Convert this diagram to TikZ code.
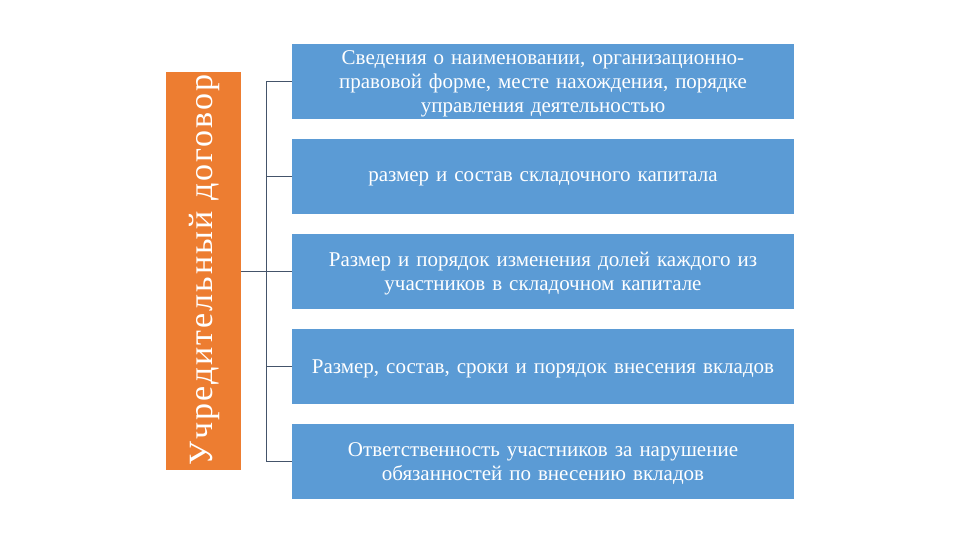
\documentclass[tikz,border=0pt]{standalone}
\usepackage{fontspec}
\setmainfont{Liberation Serif}
\newfontfamily\barfont[LetterSpace=6]{Liberation Serif}
\definecolor{barorange}{HTML}{ED7D31}
\definecolor{boxblue}{HTML}{5B9BD5}
\definecolor{linegray}{HTML}{44546A}
\begin{document}
\begin{tikzpicture}[x=1bp,y=-1bp,
  itembox/.style={fill=boxblue, draw=none, minimum width=502bp, minimum height=75bp, inner sep=0pt},
  itemtext/.style={text width=495bp, align=center, text=white, inner sep=0pt,
    font=\fontsize{21bp}{24bp}\selectfont, yshift=-2.5bp},
  conn/.style={draw=linegray, line width=0.8bp}]
\useasboundingbox (0,0) rectangle (960,540);
\node[fill=barorange, minimum width=75bp, minimum height=398bp, inner sep=0pt] (bar) at (203.5,271) {};
\node[rotate=90, anchor=base, text=white, font=\barfont\fontsize{34bp}{36bp}\selectfont, inner sep=0pt] (bartext) at (212,270) {Учредительный договор};
\node[itembox] (b1) at (543,81.5) {};
\node[itembox] (b2) at (543,176.5) {};
\node[itembox] (b3) at (543,271.5) {};
\node[itembox] (b4) at (543,366.5) {};
\node[itembox] (b5) at (543,461.5) {};
\node[itemtext] (t1) at (b1) {Сведения о наименовании, организационно-\\правовой форме, месте нахождения, порядке\\управления деятельностью};
\node[itemtext] (t2) at (b2) {размер и состав складочного капитала};
\node[itemtext] (t3) at (b3) {Размер и порядок изменения долей каждого из\\участников в складочном капитале};
\node[itemtext] (t4) at (b4) {Размер, состав, сроки и порядок внесения вкладов};
\node[itemtext] (t5) at (b5) {Ответственность участников за нарушение\\обязанностей по внесению вкладов};
\coordinate (top) at (266,81.5);
\coordinate (bot) at (266,461.5);
\draw[conn] (b1.west) -- (top) -- (bot) -- (b5.west);
\draw[conn] (bar.east |- b3.west) -- (b3.west);
\draw[conn] (b2.west) -- (top |- b2.west);
\draw[conn] (b4.west) -- (top |- b4.west);
\end{tikzpicture}
\end{document}
